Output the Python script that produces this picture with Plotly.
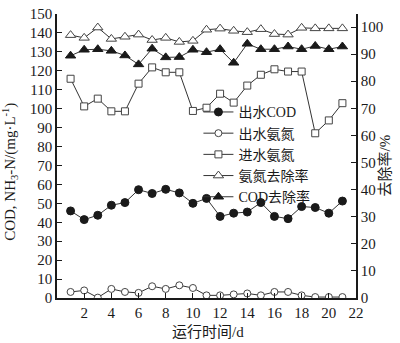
import plotly.graph_objects as go

# Operating days
days = list(range(1, 22))

# Effluent COD (mg/L)
cod_out = [46.0, 41.4, 43.7, 49.0, 50.4, 57.2, 55.2, 57.4, 55.5, 50.0, 52.6,
           43.1, 44.8, 45.4, 50.4, 43.1, 41.9, 48.3, 47.8, 44.8, 51.2]
# Effluent ammonia nitrogen (mg/L)
nh3_out = [3.2, 4.0, 0.2, 4.8, 3.2, 2.7, 6.2, 4.8, 6.7, 5.3, 1.4,
           1.4, 1.9, 2.4, 1.4, 3.2, 3.2, 1.4, 0.5, 0.5, 0.5]
# Influent ammonia nitrogen (mg/L)
nh3_in = [115.8, 101.2, 105.3, 98.6, 98.6, 113.2, 121.8, 119.2, 119.2, 98.8, 100.5,
          107.9, 103.2, 112.2, 117.9, 120.8, 119.6, 119.6, 87.0, 93.8, 102.9]
# Ammonia removal rate (%)
nh3_rate = [97.0, 96.0, 99.8, 95.6, 96.4, 97.2, 95.2, 96.0, 94.5, 94.9, 99.0,
            99.4, 98.6, 98.1, 99.2, 97.4, 97.2, 99.7, 99.5, 99.5, 99.5]
# COD removal rate (%)
cod_rate = [89.4, 91.6, 91.8, 91.2, 89.5, 86.2, 92.0, 88.8, 88.9, 91.6, 90.7,
            91.8, 86.8, 93.8, 91.8, 91.8, 92.8, 91.8, 93.0, 91.8, 92.8]

x_ticks = list(range(2, 23, 2))

FONT = "Liberation Serif, Times New Roman, Noto Sans CJK SC, serif"
INK = "#1a1a1a"
LINE = dict(color="#333333", width=1)

fig = go.Figure()

fig.add_trace(go.Scatter(
    x=days, y=cod_out, name="出水COD", mode="lines+markers", line=LINE,
    marker=dict(symbol="circle", size=8, color=INK, line=dict(color=INK, width=1)),
))
fig.add_trace(go.Scatter(
    x=days, y=nh3_out, name="出水氨氮", mode="lines+markers", line=LINE,
    marker=dict(symbol="circle", size=7, color="white", line=dict(color="#444444", width=1)),
))
fig.add_trace(go.Scatter(
    x=days, y=nh3_in, name="进水氨氮", mode="lines+markers", line=LINE,
    marker=dict(symbol="square", size=7, color="white", line=dict(color="#444444", width=1)),
))
fig.add_trace(go.Scatter(
    x=days, y=nh3_rate, name="氨氮去除率", mode="lines+markers", line=LINE, yaxis="y2",
    marker=dict(symbol="triangle-up", size=9, color="white", line=dict(color="#444444", width=1)),
))
fig.add_trace(go.Scatter(
    x=days, y=cod_rate, name="COD去除率", mode="lines+markers", line=LINE, yaxis="y2",
    marker=dict(symbol="triangle-up", size=9, color=INK, line=dict(color=INK, width=1)),
))

axis_common = dict(
    showgrid=False, zeroline=False, showline=True, linecolor=INK, linewidth=1.5,
    ticks="inside", ticklen=5, tickwidth=1.2, tickcolor=INK,
    tickfont=dict(family=FONT, size=15, color=INK),
    ticklabeloverflow="allow",
)

fig.update_layout(
    width=400, height=343,
    margin=dict(l=57, r=44, t=6, b=45),
    paper_bgcolor="white", plot_bgcolor="white",
    font=dict(family=FONT, size=15, color=INK),
    xaxis=dict(range=[0, 22], tickvals=x_ticks, **axis_common),
    yaxis=dict(range=[0, 150], dtick=10, **axis_common),
    yaxis2=dict(range=[0, 104.8], dtick=10, overlaying="y", side="right", **axis_common),
    showlegend=True,
    legend=dict(
        x=0.473, y=0.71, xanchor="left", yanchor="top",
        bgcolor="rgba(0,0,0,0)", itemwidth=30, tracegroupgap=0,
        font=dict(family=FONT, size=14, color=INK),
    ),
    annotations=[
        dict(text="COD, NH<sub>3</sub>-N/(mg·L<sup>-1</sup>)", xref="paper", yref="paper",
             x=-0.2, y=0.445, textangle=-90, showarrow=False,
             font=dict(family=FONT, size=15, color=INK)),
        dict(text="去除率/%", xref="paper", yref="paper",
             x=1.13, y=0.466, textangle=-90, showarrow=False,
             font=dict(family=FONT, size=15, color=INK)),
        dict(text="运行时间/d", xref="paper", yref="paper",
             x=0.505, y=-0.118, showarrow=False, yanchor="middle",
             font=dict(family=FONT, size=15, color=INK)),
    ],
)

fig.write_html("out.html")
